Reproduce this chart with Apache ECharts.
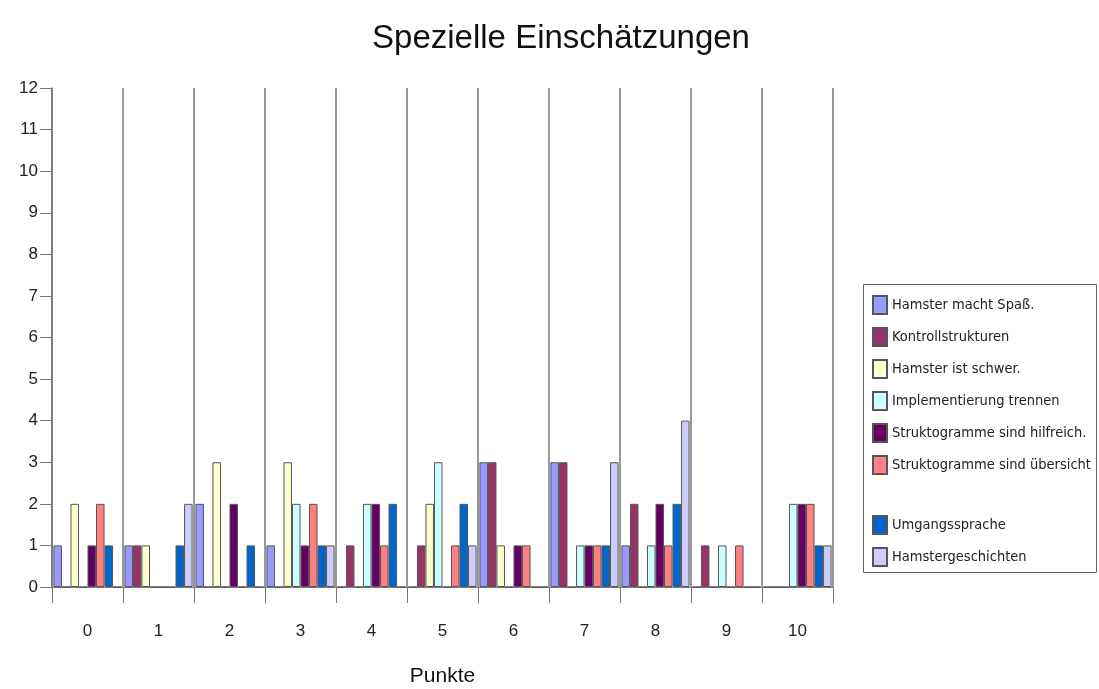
<!DOCTYPE html>
<html>
<head>
<meta charset="utf-8">
<script src="https://cdn.jsdelivr.net/npm/echarts@6/dist/echarts.min.js"></script>
<style>
  html, body { margin: 0; padding: 0; background: #fff; }
  #main { width: 1099px; height: 689px; }
</style>
</head>
<body>
<div id="main"></div>
<script>
// Punkte 0..10
const categories = ['0', '1', '2', '3', '4', '5', '6', '7', '8', '9', '10'];

const seriesNames = [
  'Hamster macht Spaß.',
  'Kontrollstrukturen',
  'Hamster ist schwer.',
  'Implementierung trennen',
  'Struktogramme sind hilfreich.',
  'Struktogramme sind übersicht',
  'Umgangssprache',
  'Hamstergeschichten'
];

const hamsterSpass = [1, 1, 2, 1, 0, 0, 3, 3, 1, 0, 0];
const kontrollstrukturen = [0, 1, 0, 0, 1, 1, 3, 3, 2, 1, 0];
const hamsterSchwer = [2, 1, 3, 3, 0, 2, 1, 0, 0, 0, 0];
const implementierung = [0, 0, 0, 2, 2, 3, 0, 1, 1, 1, 2];
const struktHilfreich = [1, 0, 2, 1, 2, 0, 1, 1, 2, 0, 2];
const struktUebersicht = [2, 0, 0, 2, 1, 1, 1, 1, 1, 1, 2];
const umgangssprache = [1, 1, 1, 1, 2, 2, 0, 1, 2, 0, 1];
const hamstergeschichten = [0, 2, 0, 1, 0, 1, 0, 3, 4, 0, 1];

const yTicks = [0, 12, 1]; // min, max, interval

const values = [hamsterSpass, kontrollstrukturen, hamsterSchwer, implementierung,
  struktHilfreich, struktUebersicht, umgangssprache, hamstergeschichten];
const colors = ['#9999ff', '#993366', '#ffffcc', '#ccffff', '#660066', '#ff8080', '#0066cc', '#ccccff'];

const fontMain = "'Liberation Sans', Arial, sans-serif";
const fontNarrow = "'Liberation Sans Narrow', 'DejaVu Sans Condensed', 'Liberation Sans', sans-serif";

let myChart = echarts.init(document.getElementById('main'));

const legendText = { fontFamily: fontNarrow, fontSize: 14.5, color: '#222' };

myChart.setOption({
  animation: false,
  backgroundColor: '#fff',
  title: {
    text: 'Spezielle Einschätzungen',
    left: 556,
    textAlign: 'center',
    top: 17,
    textStyle: { fontFamily: fontMain, fontSize: 33, fontWeight: 'normal', color: '#111' }
  },
  legend: [
    {
      orient: 'vertical',
      left: 867,
      top: 290,
      icon: 'rect',
      itemWidth: 14,
      itemHeight: 18,
      itemGap: 12,
      textStyle: legendText,
      data: seriesNames.slice(0, 6)
    },
    {
      orient: 'vertical',
      left: 867,
      top: 510,
      icon: 'rect',
      itemWidth: 14,
      itemHeight: 18,
      itemGap: 12,
      textStyle: legendText,
      data: seriesNames.slice(6)
    }
  ],
  graphic: [{
    type: 'rect',
    shape: { x: 863.5, y: 284.5, width: 233, height: 288 },
    style: { fill: 'none', stroke: '#666', lineWidth: 1 },
    z: -1
  }],
  grid: { left: 52, right: 266, top: 88, bottom: 102, outerBoundsMode: 'none' },
  xAxis: {
    type: 'category',
    data: categories,
    name: 'Punkte',
    nameLocation: 'middle',
    nameGap: 79,
    nameTextStyle: { fontFamily: fontMain, fontSize: 21, color: '#111' },
    axisLine: { show: true, lineStyle: { color: '#777', width: 1 } },
    axisTick: { show: true, length: 16, lineStyle: { color: '#777' } },
    splitLine: { show: true, lineStyle: { color: '#777', width: 1.5 } },
    axisLabel: { margin: 36, fontFamily: fontMain, fontSize: 17, color: '#222' }
  },
  yAxis: {
    type: 'value',
    min: yTicks[0],
    max: yTicks[1],
    interval: yTicks[2],
    axisLine: { show: true, lineStyle: { color: '#777', width: 1.5 } },
    axisTick: { show: true, length: 12, lineStyle: { color: '#777' } },
    splitLine: { show: false },
    axisLabel: { margin: 14, fontFamily: fontMain, fontSize: 17, color: '#222' }
  },
  series: seriesNames.map((name, i) => ({
    name: name,
    type: 'bar',
    data: values[i],
    barGap: '0%',
    barCategoryGap: '4%',
    itemStyle: { color: colors[i], borderColor: '#555', borderWidth: 1 }
  }))
});
</script>
</body>
</html>
